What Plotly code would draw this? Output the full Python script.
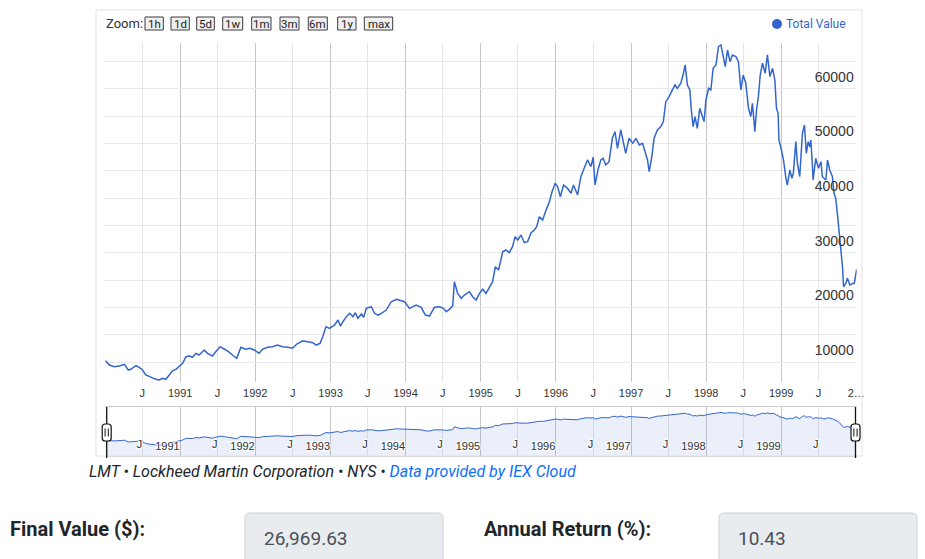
import plotly.graph_objects as go

# ---------------- data ----------------
dates = [
    "1990-01-02", "1990-01-22", "1990-02-15", "1990-03-11", "1990-04-05", "1990-04-24", "1990-05-06",
    "1990-05-31", "1990-06-16", "1990-07-02", "1990-07-18", "1990-08-04", "1990-08-20", "1990-09-05",
    "1990-09-21", "1990-10-07", "1990-10-23", "1990-11-09", "1990-11-25", "1990-12-11", "1990-12-27",
    "1991-01-13", "1991-01-29", "1991-02-14", "1991-03-02", "1991-03-18", "1991-04-03", "1991-04-28",
    "1991-05-14", "1991-06-07", "1991-06-23", "1991-07-14", "1991-08-03", "1991-08-24", "1991-09-12",
    "1991-10-03", "1991-10-23", "1991-11-16", "1991-12-07", "1991-12-27",
    "1992-01-20", "1992-02-05", "1992-03-01", "1992-03-25", "1992-04-18", "1992-05-13", "1992-06-06",
    "1992-06-30", "1992-07-21", "1992-08-19", "1992-09-12", "1992-10-07", "1992-10-23", "1992-11-11",
    "1992-11-24", "1992-12-10", "1992-12-27",
    "1993-01-21", "1993-02-06", "1993-02-18", "1993-03-02", "1993-03-19", "1993-04-04", "1993-04-20",
    "1993-05-02", "1993-05-14", "1993-05-31", "1993-06-11", "1993-06-24", "1993-07-18", "1993-08-03",
    "1993-08-20", "1993-09-05", "1993-09-29", "1993-10-23", "1993-11-17", "1993-12-11", "1993-12-27",
    "1994-01-20", "1994-02-05", "1994-02-21", "1994-03-18", "1994-04-07", "1994-04-27", "1994-05-21",
    "1994-06-15", "1994-07-04", "1994-07-17", "1994-08-02", "1994-08-18", "1994-08-26", "1994-09-11",
    "1994-09-28", "1994-10-14", "1994-11-07", "1994-11-23", "1994-12-10", "1994-12-26",
    "1995-01-11", "1995-01-27", "1995-02-12", "1995-02-28", "1995-03-13", "1995-03-29", "1995-04-18",
    "1995-05-04", "1995-05-20", "1995-06-05", "1995-06-17", "1995-06-30", "1995-07-16", "1995-08-01",
    "1995-08-17", "1995-09-03", "1995-09-19", "1995-09-30", "1995-10-13", "1995-10-29", "1995-11-15",
    "1995-12-01", "1995-12-14", "1995-12-29",
    "1996-01-10", "1996-01-23", "1996-02-08", "1996-02-27", "1996-03-15", "1996-03-27", "1996-04-16",
    "1996-05-02", "1996-05-18", "1996-06-03", "1996-06-20", "1996-07-01", "1996-07-10", "1996-07-24",
    "1996-08-07", "1996-08-18", "1996-08-31", "1996-09-16", "1996-10-02", "1996-10-15", "1996-10-27",
    "1996-11-12", "1996-11-23", "1996-12-06", "1996-12-22",
    "1997-01-09", "1997-01-25", "1997-02-10", "1997-02-26", "1997-03-14", "1997-03-22", "1997-03-30",
    "1997-04-12", "1997-04-23", "1997-05-09", "1997-05-26", "1997-06-07", "1997-06-19", "1997-07-05",
    "1997-07-21", "1997-08-03", "1997-08-14", "1997-08-31", "1997-09-11", "1997-09-21", "1997-10-02",
    "1997-10-14", "1997-10-21", "1997-10-30", "1997-11-08", "1997-11-19", "1997-12-01", "1997-12-14",
    "1997-12-22", "1997-12-31",
    "1998-01-13", "1998-01-24", "1998-02-04", "1998-02-18", "1998-03-02", "1998-03-14", "1998-03-25",
    "1998-04-04", "1998-04-15", "1998-04-27", "1998-05-09", "1998-05-26", "1998-06-07", "1998-06-19",
    "1998-06-30", "1998-07-13", "1998-07-26", "1998-08-06", "1998-08-14", "1998-08-26", "1998-09-03",
    "1998-09-12", "1998-09-21", "1998-10-02", "1998-10-15", "1998-10-26", "1998-11-07", "1998-11-20",
    "1998-12-01", "1998-12-09", "1998-12-17", "1998-12-21",
    "1999-01-02", "1999-01-12", "1999-01-24", "1999-01-31", "1999-02-12", "1999-02-22", "1999-03-01",
    "1999-03-13", "1999-03-21", "1999-04-01", "1999-04-14", "1999-04-24", "1999-05-03", "1999-05-12",
    "1999-05-20", "1999-05-25", "1999-06-02", "1999-06-05", "1999-06-18", "1999-07-01", "1999-07-13",
    "1999-07-20", "1999-08-06", "1999-08-14", "1999-08-25", "1999-09-07", "1999-09-15", "1999-09-23",
    "1999-10-01", "1999-10-10", "1999-10-18", "1999-10-26", "1999-10-31", "1999-11-11", "1999-11-19",
    "1999-12-01", "1999-12-13", "1999-12-22", "2000-01-03",
]
values = [
    10300, 9450, 9140, 9270, 9580, 8530, 8660,
    9320, 9030, 8530, 7620, 7310, 7130, 6830,
    6700, 7010, 6830, 7620, 8400, 8660, 9140,
    9760, 10970, 11100, 10860, 11590, 11280, 12200,
    11590, 11100, 11890, 12800, 12380, 11890, 11280,
    10680, 12690, 12330, 12510, 12200,
    11590, 12330, 12690, 12800, 13110, 12800, 12690,
    12510, 13300, 13900, 13720, 13530, 13110, 13420,
    14630, 16470, 16170,
    16780, 17690, 16590, 17380, 18300, 18920, 18300,
    19030, 18000, 18790, 18190, 19830, 20130, 18920,
    18600, 18920, 19520, 21040, 21480, 21230, 21040,
    19830, 20130, 20440, 20020, 18600, 18420, 20020,
    20130, 19830, 19210, 19650, 20260, 24710, 22580,
    21670, 22270, 22870, 21960, 21350, 22570,
    23320, 22570, 23790, 24710, 27450, 26840, 30200,
    30510, 30020, 31120, 32950, 32340, 33260, 31850,
    32040, 33680, 34180, 34780, 36610, 36000, 37840,
    39360, 41190, 42730,
    42120, 40270, 42420, 41810, 40900, 42420, 40590,
    43940, 45480, 47000, 45790, 47490, 42420, 45160,
    47000, 47310, 46080, 46690, 50970, 52180, 49140,
    52490, 50530, 48220, 50970,
    50050, 50970, 49750, 50050, 48220, 47000, 44850,
    47600, 50970, 52490, 53100, 54020, 57670, 58590,
    59820, 60730, 60120, 61040, 62560, 64400, 60730,
    59820, 56150, 53100, 54930, 52790, 56460, 54930,
    54020, 57990,
    60120, 59820, 63790, 64400, 67740, 68060, 65620,
    64090, 67140, 65000, 66230, 65930, 65000, 59820,
    62560, 61040, 56460, 54930, 57370, 52180, 56150,
    58590, 62560, 64710, 62880, 66230, 62270, 63790,
    61650, 56460, 55540, 50660,
    48830, 47000, 43640, 42420, 45160, 43640, 44560,
    50350, 46380, 43940, 51880, 53410, 48220, 50350,
    49440, 50660, 45790, 43330, 47300, 45480, 46690,
    43940, 43330, 47000, 45160, 43940, 40900, 39980,
    37230, 33570, 29910, 27450, 23790, 24400, 25330,
    24100, 24400, 24400, 26970,
]

year_ticks = ["1991-01-01", "1992-01-01", "1993-01-01", "1994-01-01", "1995-01-01",
              "1996-01-01", "1997-01-01", "1998-01-01", "1999-01-01", "2000-01-01"]
year_labels = ["1991", "1992", "1993", "1994", "1995", "1996", "1997", "1998", "1999", "2…"]
july_ticks = ["1990-07-01", "1991-07-01", "1992-07-01", "1993-07-01", "1994-07-01",
              "1995-07-01", "1996-07-01", "1997-07-01", "1998-07-01", "1999-07-01"]
july_labels = ["J", "J", "J", "J", "J", "J", "J", "J", "J", "J"]
nav_year_ticks = year_ticks[:-1]
nav_year_labels = year_labels[:-1]
y_ticks = [10000, 20000, 30000, 40000, 50000, 60000]
y_labels = [str(v) for v in y_ticks]
y_range = [6340, 68420]
zoom_buttons = ["1h", "1d", "5d", "1w", "1m", "3m", "6m", "1y", "max"]
series_name = "Total Value"
caption = "LMT • Lockheed Martin Corporation • NYS • "
caption_link = "Data provided by IEX Cloud"
final_label = "Final Value ($):"
final_value = "26,969.63"
return_label = "Annual Return (%):"
return_value = "10.43"

# ---------------- layout helpers (pixel -> paper) ----------------
W, H = 925, 559


def fx(p):
    return p / W


def fy(p):
    return 1 - p / H


LEFT, RIGHT = 105.3, 856.7
MAIN_TOP, MAIN_BOT = 43, 382
NAV_TOP, NAV_BOT = 407, 456

BLUE = "#3366cc"
YEAR_GRID = "#c6c6c6"
MINOR_GRID = "#e6e6e6"
HGRID = "#e8e8ef"
AXIS_FONT = dict(family="Liberation Sans, Arial, sans-serif", size=11, color="#333333")
NAV_FONT = dict(family="Liberation Sans, Arial, sans-serif", size=11, color="#333333",
                shadow="1px 1px 1px #fff, -1px -1px 1px #fff, 1px -1px 1px #fff, -1px 1px 1px #fff")
UI_FONT = "Roboto, 'Noto Sans', Arial, sans-serif"

fig = go.Figure()
fig.add_trace(go.Scatter(x=dates, y=values, mode="lines", name=series_name,
                         line=dict(color=BLUE, width=1.5), xaxis="x", yaxis="y",
                         hoverinfo="skip", showlegend=False))
fig.add_trace(go.Scatter(x=dates, y=values, mode="lines", name=series_name,
                         line=dict(color=BLUE, width=1), fill="tozeroy",
                         fillcolor="rgba(51,102,204,0.1)", xaxis="x2", yaxis="y2",
                         hoverinfo="skip", showlegend=False))
# invisible carriers so the overlay label axes are drawn
fig.add_trace(go.Scatter(x=dates, y=values, mode="lines", opacity=0, xaxis="x3", yaxis="y",
                         hoverinfo="skip", showlegend=False))
fig.add_trace(go.Scatter(x=dates, y=values, mode="lines", opacity=0, xaxis="x4", yaxis="y2",
                         hoverinfo="skip", showlegend=False))
fig.add_trace(go.Scatter(x=dates, y=values, mode="lines", opacity=0, xaxis="x5", yaxis="y3",
                         hoverinfo="skip", showlegend=False))

x_range = [dates[0], dates[-1]]
dom = [fx(LEFT), fx(RIGHT)]
ydom = [fy(MAIN_BOT), fy(MAIN_TOP)]

fig.update_layout(
    width=W, height=H, margin=dict(l=0, r=0, t=0, b=0, pad=0, autoexpand=False),
    paper_bgcolor="white", plot_bgcolor="white", hovermode=False, showlegend=False,
    xaxis=dict(domain=dom, anchor="y", type="date", range=x_range,
               tickmode="array", tickvals=year_ticks, ticktext=year_labels,
               showgrid=True, gridcolor=YEAR_GRID, gridwidth=1, ticks="",
               showline=False, zeroline=False, tickfont=AXIS_FONT, ticklabelstandoff=3,
               ticklabeloverflow="allow", automargin=False),
    xaxis3=dict(overlaying="x", anchor="y", side="bottom", type="date", range=x_range,
                tickmode="array", tickvals=july_ticks, ticktext=july_labels,
                showgrid=True, gridcolor=MINOR_GRID, ticks="", showline=False,
                zeroline=False, tickfont=AXIS_FONT, ticklabelstandoff=3,
                ticklabeloverflow="allow", automargin=False),
    xaxis5=dict(overlaying="x", anchor="y3", type="date", range=x_range, visible=False),
    yaxis=dict(domain=ydom, anchor="x", side="right", range=y_range,
               tickmode="array", tickvals=y_ticks, showticklabels=False, automargin=False,
               showgrid=True, gridcolor=HGRID, zeroline=False, ticks="", showline=False,
               minor=dict(tickmode="linear", tick0=0, dtick=5000, showgrid=True, gridcolor=HGRID)),
    yaxis3=dict(overlaying="y", anchor="free", position=fx(RIGHT), side="right", range=y_range,
                tickmode="array", tickvals=y_ticks, ticktext=y_labels,
                ticklabelposition="inside", ticklabelshift=-12, automargin=False,
                tickfont=dict(family="Liberation Sans, Arial, sans-serif", size=14, color="#333333"),
                showgrid=False, zeroline=False, ticks="", showline=False),
    xaxis2=dict(domain=dom, anchor="y2", type="date", range=x_range,
                tickmode="array", tickvals=nav_year_ticks, ticktext=nav_year_labels,
                ticklabelposition="inside left", showgrid=True, gridcolor=YEAR_GRID,
                ticks="", zeroline=False, showline=True, linecolor="#cccccc", mirror=True,
                tickfont=NAV_FONT, automargin=False),
    xaxis4=dict(overlaying="x2", anchor="y2", type="date", range=x_range,
                tickmode="array", tickvals=july_ticks, ticktext=july_labels,
                ticklabelposition="inside left", showgrid=True, gridcolor=MINOR_GRID,
                ticks="", zeroline=False, showline=False, tickfont=NAV_FONT, automargin=False),
    yaxis2=dict(domain=[fy(NAV_BOT), fy(NAV_TOP)], anchor="x2", type="log", range=[3.5, 5.0],
                showgrid=False, showticklabels=False, zeroline=False, ticks="", showline=False,
                automargin=False),
)


def rrect_path(x0, y0, x1, y1, r):
    pts = [
        ("M", [(x0 + r, y0)]), ("L", [(x1 - r, y0)]), ("Q", [(x1, y0), (x1, y0 + r)]),
        ("L", [(x1, y1 - r)]), ("Q", [(x1, y1), (x1 - r, y1)]), ("L", [(x0 + r, y1)]),
        ("Q", [(x0, y1), (x0, y1 - r)]), ("L", [(x0, y0 + r)]), ("Q", [(x0, y0), (x0 + r, y0)]),
    ]
    s = ""
    for cmd, ps in pts:
        s += cmd + " " + " ".join(f"{fx(a):.5f},{fy(b):.5f}" for a, b in ps) + " "
    return s + "Z"


shapes = []
annotations = []

# outer container border
shapes.append(dict(type="rect", xref="paper", yref="paper", x0=fx(96), x1=fx(862),
                   y0=fy(456), y1=fy(10), line=dict(color="#e3e3e3", width=1)))

# zoom label and buttons
annotations.append(dict(text="Zoom:", x=fx(104), y=fy(24), xref="paper", yref="paper",
                        xanchor="left", yanchor="middle", showarrow=False,
                        font=dict(family=UI_FONT, size=13, color="#333333")))
btn_x = [145, 171, 196.7, 222.7, 251.7, 280, 308.3, 337.7, 364.3]
btn_w = [18.3, 18.3, 17.6, 20, 19.3, 19, 19, 18.3, 28.4]
for lab, bx, bw in zip(zoom_buttons, btn_x, btn_w):
    shapes.append(dict(type="rect", xref="paper", yref="paper", x0=fx(bx), x1=fx(bx + bw),
                       y0=fy(30), y1=fy(17), fillcolor="#efefef",
                       line=dict(color="#3c3c3c", width=1)))
    annotations.append(dict(text=lab, x=fx(bx + bw / 2), y=fy(23.7), xref="paper", yref="paper",
                            xanchor="center", yanchor="middle", showarrow=False,
                            font=dict(family=UI_FONT, size=11.5, color="#222222")))

# legend
shapes.append(dict(type="circle", xref="paper", yref="paper", x0=fx(772), x1=fx(782),
                   y0=fy(29), y1=fy(19), fillcolor=BLUE, line=dict(color=BLUE, width=0)))
annotations.append(dict(text=series_name, x=fx(784), y=fy(24), xref="paper", yref="paper",
                        xanchor="left", yanchor="middle", showarrow=False,
                        font=dict(family=UI_FONT, size=12, color=BLUE)))

# navigator handles
for hx in (106.7, 855.5):
    shapes.append(dict(type="line", xref="paper", yref="paper", x0=fx(hx), x1=fx(hx),
                       y0=fy(NAV_TOP), y1=fy(458), line=dict(color="#111111", width=1.3)))
    shapes.append(dict(type="path", xref="paper", yref="paper",
                       path=rrect_path(hx - 4.5, 424, hx + 4.5, 441, 3),
                       fillcolor="#ffffff", line=dict(color="#111111", width=1.2)))
    for dx in (-1.6, 1.6):
        shapes.append(dict(type="line", xref="paper", yref="paper", x0=fx(hx + dx), x1=fx(hx + dx),
                           y0=fy(428.5), y1=fy(436.5), line=dict(color="#111111", width=1)))

# caption
annotations.append(dict(
    text=f"<i>{caption}<span style='color:#0d6efd'>{caption_link}</span></i>",
    x=fx(87), y=fy(471), xref="paper", yref="paper", xanchor="left", yanchor="middle",
    showarrow=False, font=dict(family=UI_FONT, size=16, color="#212529")))

# result fields
for lab, lx, val, bx in ((final_label, 8, final_value, 245), (return_label, 482, return_value, 719)):
    annotations.append(dict(text=f"<b>{lab}</b>", x=fx(lx), y=fy(529), xref="paper", yref="paper",
                            xanchor="left", yanchor="middle", showarrow=False,
                            font=dict(family=UI_FONT, size=20, color="#212529")))
    shapes.append(dict(type="path", xref="paper", yref="paper",
                       path=rrect_path(bx, 513, bx + 198, 566, 5),
                       fillcolor="#e9ecef", line=dict(color="#ced4da", width=1)))
    annotations.append(dict(text=val, x=fx(bx + 17), y=fy(538), xref="paper", yref="paper",
                            xanchor="left", yanchor="middle", showarrow=False,
                            font=dict(family=UI_FONT, size=19, color="#495057")))

fig.update_layout(shapes=shapes, annotations=annotations)
fig.write_html("out.html")
